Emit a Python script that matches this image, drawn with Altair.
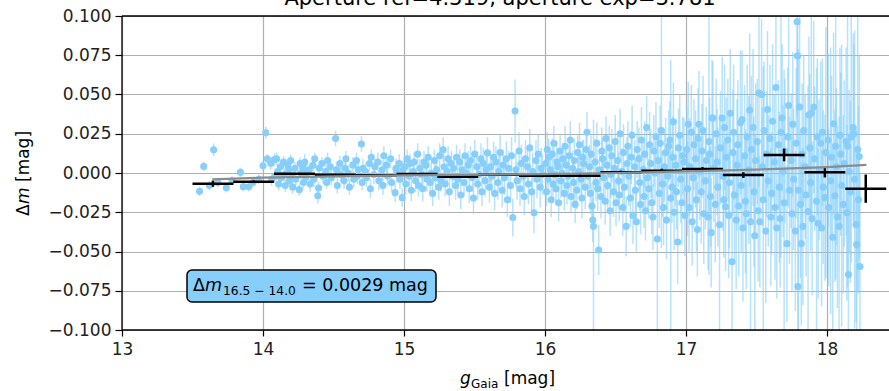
import altair as alt
import pandas as pd

# ---------------- data ----------------
# individual stars: (g_Gaia, delta_m, delta_m_err)
stars_135 = [
    (13.55, -0.0117, 0.003), (13.58, 0.0042, 0.003), (13.62, -0.0080, 0.003), (13.65, 0.0148, 0.004),
    (13.68, -0.0060, 0.003), (13.74, -0.0094, 0.003), (13.78, -0.0050, 0.003), (13.84, 0.0004, 0.003),
    (13.86, -0.0087, 0.003), (13.90, -0.0088, 0.003), (13.93, -0.0060, 0.003), (13.97, -0.0040, 0.003),
    (14.00, 0.0046, 0.003), (14.02, 0.0256, 0.004), (14.03, 0.0090, 0.003),
]
stars_140 = [
    (14.055, 0.006, 0.004), (14.062, -0.004, 0.004), (14.081, 0.0085, 0.004), (14.088, -0.002, 0.003),
    (14.097, 0.009, 0.004), (14.104, 0.001, 0.003), (14.111, -0.007, 0.004), (14.123, 0.004, 0.004),
    (14.129, -0.003, 0.003), (14.146, 0.007, 0.004), (14.152, -0.001, 0.004), (14.158, -0.008, 0.004),
    (14.175, 0.005, 0.004), (14.182, 0.002, 0.003), (14.188, -0.005, 0.004), (14.197, 0.008, 0.004),
    (14.204, -0.002, 0.004), (14.211, -0.009, 0.004), (14.226, 0.003, 0.004), (14.233, -0.004, 0.004),
    (14.258, -0.0106, 0.004), (14.263, 0.006, 0.004), (14.269, 0.000, 0.004), (14.281, 0.004, 0.004),
    (14.287, -0.006, 0.004), (14.296, 0.007, 0.005), (14.303, -0.003, 0.004), (14.309, 0.001, 0.004),
    (14.327, 0.002, 0.004), (14.334, -0.007, 0.005), (14.355, 0.005, 0.004), (14.361, -0.004, 0.005),
    (14.367, 0.009, 0.004), (14.389, -0.0145, 0.005), (14.394, -0.0095, 0.004), (14.399, 0.003, 0.005),
    (14.418, 0.006, 0.004), (14.425, -0.002, 0.005), (14.446, 0.001, 0.005), (14.452, -0.006, 0.004),
    (14.458, 0.008, 0.005), (14.478, 0.004, 0.005), (14.485, -0.003, 0.005), (14.515, 0.022, 0.005),
    (14.521, 0.002, 0.005), (14.527, -0.008, 0.005), (14.546, 0.006, 0.005), (14.553, -0.001, 0.005),
    (14.575, -0.005, 0.005), (14.582, 0.003, 0.005), (14.588, 0.009, 0.005), (14.606, 0.000, 0.005),
    (14.613, -0.009, 0.005), (14.637, 0.005, 0.005), (14.644, -0.004, 0.005), (14.663, 0.008, 0.005),
    (14.669, -0.002, 0.005), (14.676, 0.002, 0.006), (14.698, 0.0185, 0.005), (14.703, -0.006, 0.005),
    (14.709, 0.003, 0.006), (14.727, 0.001, 0.005), (14.734, -0.003, 0.006), (14.755, 0.006, 0.005),
    (14.762, -0.010, 0.006), (14.768, 0.010, 0.005), (14.786, -0.001, 0.006), (14.793, 0.004, 0.005),
    (14.815, 0.007, 0.006), (14.822, -0.005, 0.006), (14.845, 0.002, 0.006), (14.851, -0.008, 0.006),
    (14.857, 0.011, 0.006), (14.876, 0.005, 0.006), (14.883, -0.002, 0.006), (14.905, 0.009, 0.006),
    (14.912, -0.006, 0.006), (14.937, -0.0125, 0.006), (14.943, 0.003, 0.006), (14.949, 0.000, 0.006),
    (14.966, 0.006, 0.006), (14.972, -0.004, 0.006), (14.987, -0.0157, 0.006), (14.994, 0.002, 0.006),
]
stars_150 = [
    (15.008, 0.004, 0.006), (15.013, -0.007, 0.007), (15.022, 0.009, 0.006), (15.037, -0.002, 0.007),
    (15.043, 0.006, 0.006), (15.052, -0.011, 0.007), (15.066, 0.001, 0.007), (15.072, 0.007, 0.006),
    (15.083, -0.005, 0.007), (15.097, 0.012, 0.007), (15.103, -0.008, 0.007), (15.112, 0.003, 0.006),
    (15.127, -0.001, 0.007), (15.133, -0.010, 0.008), (15.142, 0.007, 0.007), (15.157, 0.005, 0.007),
    (15.163, -0.004, 0.008), (15.172, 0.010, 0.007), (15.186, -0.006, 0.008), (15.193, 0.000, 0.007),
    (15.203, -0.013, 0.008), (15.216, 0.008, 0.007), (15.223, -0.003, 0.008), (15.232, 0.002, 0.007),
    (15.246, -0.009, 0.008), (15.253, 0.011, 0.008), (15.262, -0.005, 0.007), (15.278, 0.0148, 0.008),
    (15.284, 0.004, 0.008), (15.292, -0.007, 0.008), (15.306, 0.001, 0.008), (15.313, 0.009, 0.008),
    (15.322, -0.012, 0.009), (15.336, 0.006, 0.008), (15.343, -0.002, 0.008), (15.352, 0.003, 0.008),
    (15.366, -0.008, 0.009), (15.373, 0.010, 0.008), (15.382, -0.004, 0.009), (15.396, 0.007, 0.008),
    (15.403, -0.014, 0.009), (15.412, 0.002, 0.009), (15.426, -0.006, 0.009), (15.433, 0.011, 0.008),
    (15.442, 0.000, 0.009), (15.456, 0.005, 0.009), (15.463, -0.010, 0.009), (15.472, 0.008, 0.009),
    (15.486, -0.003, 0.009), (15.493, -0.016, 0.010), (15.502, 0.012, 0.009), (15.516, 0.004, 0.009),
    (15.523, -0.007, 0.010), (15.532, -0.001, 0.009), (15.546, 0.009, 0.010), (15.553, -0.012, 0.009),
    (15.562, 0.006, 0.010), (15.576, -0.005, 0.010), (15.583, 0.002, 0.009), (15.592, 0.0128, 0.010),
    (15.606, -0.009, 0.010), (15.613, 0.004, 0.010), (15.622, -0.002, 0.010), (15.636, 0.010, 0.010),
    (15.643, -0.013, 0.011), (15.652, 0.007, 0.010), (15.666, -0.006, 0.011), (15.673, 0.001, 0.010),
    (15.682, 0.013, 0.011), (15.696, -0.011, 0.011), (15.703, 0.005, 0.010), (15.712, -0.003, 0.011),
    (15.726, 0.009, 0.011), (15.733, -0.017, 0.011), (15.742, 0.003, 0.011), (15.756, -0.008, 0.011),
    (15.763, 0.011, 0.012), (15.772, -0.0284, 0.012), (15.788, 0.0395, 0.020), (15.794, 0.002, 0.011),
    (15.802, -0.005, 0.012), (15.816, 0.014, 0.012), (15.823, -0.010, 0.011), (15.832, 0.006, 0.012),
    (15.846, -0.002, 0.012), (15.853, -0.015, 0.012), (15.862, 0.009, 0.012), (15.876, 0.004, 0.012),
    (15.883, -0.007, 0.013), (15.892, 0.016, 0.012), (15.906, -0.012, 0.013), (15.913, 0.001, 0.012),
    (15.922, -0.0253, 0.013), (15.936, 0.008, 0.013), (15.943, -0.004, 0.012), (15.952, 0.012, 0.013),
    (15.966, -0.009, 0.013), (15.973, 0.003, 0.013), (15.982, -0.001, 0.013),
]
stars_160 = [
    (16.006, 0.006, 0.010), (16.011, -0.012, 0.009), (16.016, 0.015, 0.011), (16.022, -0.004, 0.010),
    (16.027, 0.010, 0.012), (16.038, 0.002, 0.009), (16.044, -0.017, 0.011), (16.052, 0.012, 0.010),
    (16.057, -0.007, 0.012), (16.063, 0.019, 0.011), (16.068, -0.001, 0.009), (16.078, -0.010, 0.010),
    (16.084, 0.007, 0.013), (16.092, 0.004, 0.011), (16.097, -0.019, 0.012), (16.107, 0.014, 0.010),
    (16.113, -0.005, 0.011), (16.121, 0.000, 0.012), (16.126, 0.009, 0.010), (16.137, -0.013, 0.011),
    (16.143, 0.017, 0.013), (16.151, 0.005, 0.010), (16.156, -0.008, 0.012), (16.166, -0.002, 0.013),
    (16.172, 0.011, 0.011), (16.179, 0.021, 0.012), (16.185, -0.015, 0.010), (16.196, 0.003, 0.011),
    (16.202, -0.006, 0.013), (16.208, 0.008, 0.014), (16.214, -0.020, 0.012), (16.226, -0.011, 0.012),
    (16.232, 0.013, 0.011), (16.239, 0.001, 0.013), (16.245, 0.018, 0.014), (16.256, -0.004, 0.012),
    (16.262, -0.016, 0.013), (16.268, 0.010, 0.011), (16.274, 0.006, 0.015), (16.286, -0.009, 0.014),
    (16.292, 0.015, 0.012), (16.298, 0.026, 0.013), (16.304, -0.002, 0.012), (16.316, 0.004, 0.014),
    (16.322, -0.013, 0.013), (16.327, 0.012, 0.012), (16.333, -0.021, 0.015), (16.339, -0.030, 0.014),
    (16.344, -0.034, 0.068), (16.356, 0.007, 0.015), (16.362, -0.006, 0.012), (16.368, 0.019, 0.013),
    (16.374, -0.010, 0.014), (16.381, -0.049, 0.016), (16.386, 0.002, 0.013), (16.397, -0.015, 0.014),
    (16.403, 0.014, 0.015), (16.409, 0.009, 0.013), (16.415, -0.003, 0.016), (16.427, -0.018, 0.015),
    (16.433, 0.022, 0.014), (16.439, 0.005, 0.016), (16.445, -0.008, 0.014), (16.456, 0.016, 0.014),
    (16.462, -0.024, 0.016), (16.468, -0.001, 0.015), (16.474, 0.011, 0.017), (16.486, -0.012, 0.016),
    (16.492, 0.003, 0.015), (16.498, 0.020, 0.017), (16.504, -0.019, 0.015), (16.516, 0.008, 0.016),
    (16.522, -0.005, 0.018), (16.527, -0.014, 0.017), (16.533, 0.025, 0.016), (16.546, 0.001, 0.015),
    (16.552, -0.022, 0.018), (16.557, 0.013, 0.018), (16.563, -0.009, 0.016), (16.576, -0.034, 0.019),
    (16.582, 0.006, 0.017), (16.588, 0.017, 0.016), (16.594, -0.002, 0.019), (16.606, -0.016, 0.018),
    (16.612, 0.010, 0.017), (16.618, 0.024, 0.019), (16.624, -0.027, 0.018), (16.636, 0.004, 0.017),
    (16.642, -0.011, 0.020), (16.648, -0.031, 0.019), (16.654, 0.015, 0.018), (16.666, 0.009, 0.020),
    (16.672, -0.006, 0.018), (16.678, -0.020, 0.019), (16.684, 0.021, 0.021), (16.696, 0.002, 0.018),
    (16.702, -0.015, 0.020), (16.707, 0.012, 0.021), (16.713, -0.024, 0.019), (16.721, 0.029, 0.020),
    (16.727, -0.003, 0.022), (16.736, -0.010, 0.019), (16.742, 0.018, 0.021), (16.751, 0.006, 0.022),
    (16.757, -0.019, 0.020), (16.766, -0.028, 0.021), (16.772, 0.014, 0.023), (16.781, 0.000, 0.020),
    (16.787, 0.023, 0.022), (16.797, -0.042, 0.065), (16.803, 0.008, 0.021), (16.811, -0.013, 0.022),
    (16.817, 0.019, 0.024), (16.826, 0.027, 0.075), (16.832, -0.007, 0.021), (16.841, -0.022, 0.024),
    (16.847, 0.004, 0.022), (16.856, 0.013, 0.022), (16.862, -0.030, 0.025), (16.871, -0.002, 0.024),
    (16.877, 0.017, 0.023), (16.886, 0.021, 0.025), (16.892, -0.016, 0.088), (16.901, -0.009, 0.023),
    (16.906, 0.010, 0.026), (16.911, 0.0326, 0.025), (16.916, -0.025, 0.024), (16.927, 0.005, 0.026),
    (16.933, -0.012, 0.024), (16.941, -0.044, 0.027), (16.947, 0.016, 0.025), (16.956, 0.024, 0.026),
    (16.962, -0.004, 0.028), (16.971, -0.019, 0.027), (16.977, 0.011, 0.025), (16.986, 0.007, 0.028),
    (16.992, -0.027, 0.026),
]
stars_170 = [
    (17.006, 0.015, 0.028), (17.011, -0.010, 0.030), (17.016, 0.031, 0.027), (17.022, -0.022, 0.029),
    (17.027, 0.004, 0.031), (17.038, 0.026, 0.030), (17.044, -0.031, 0.028), (17.052, -0.003, 0.032),
    (17.057, 0.018, 0.029), (17.068, 0.009, 0.031), (17.074, -0.017, 0.033), (17.081, -0.036, 0.030),
    (17.086, 0.022, 0.032), (17.092, 0.031, 0.034), (17.097, 0.001, 0.031), (17.108, -0.012, 0.033),
    (17.114, 0.014, 0.030), (17.121, 0.027, 0.035), (17.126, -0.026, 0.032), (17.138, -0.005, 0.031),
    (17.144, 0.008, 0.034), (17.157, -0.028, 0.034), (17.163, 0.020, 0.085), (17.168, 0.012, 0.036),
    (17.174, -0.015, 0.032), (17.179, -0.038, 0.035), (17.185, 0.035, 0.037), (17.191, 0.035, 0.036),
    (17.196, 0.003, 0.034), (17.208, -0.020, 0.037), (17.214, 0.025, 0.035), (17.221, 0.007, 0.034),
    (17.226, -0.009, 0.038), (17.238, -0.033, 0.070), (17.244, 0.016, 0.036), (17.257, 0.035, 0.039),
    (17.263, -0.002, 0.035), (17.268, -0.017, 0.037), (17.274, 0.029, 0.040), (17.281, -0.0215, 0.041),
    (17.286, 0.010, 0.038), (17.297, 0.021, 0.039), (17.303, -0.027, 0.040), (17.308, -0.006, 0.042),
    (17.314, 0.038, 0.041), (17.327, -0.0565, 0.045), (17.333, 0.013, 0.040), (17.338, 0.026, 0.043),
    (17.344, -0.014, 0.041), (17.356, -0.030, 0.044), (17.362, 0.005, 0.042), (17.368, 0.018, 0.041),
    (17.374, -0.021, 0.045), (17.386, 0.032, 0.046), (17.392, -0.008, 0.043), (17.398, 0.034, 0.044),
    (17.404, -0.035, 0.047), (17.416, 0.011, 0.045), (17.422, -0.018, 0.046), (17.428, -0.026, 0.048),
    (17.434, 0.023, 0.046), (17.446, 0.002, 0.047), (17.452, 0.040, 0.049), (17.458, -0.031, 0.075),
    (17.464, 0.015, 0.047), (17.476, 0.029, 0.050), (17.482, -0.012, 0.048), (17.488, -0.040, 0.065),
    (17.494, 0.008, 0.049), (17.506, 0.020, 0.040), (17.512, -0.024, 0.045), (17.518, 0.051, 0.060),
    (17.524, -0.031, 0.042), (17.536, 0.050, 0.048), (17.542, 0.004, 0.038), (17.548, -0.017, 0.085),
    (17.554, 0.027, 0.044), (17.566, -0.037, 0.046), (17.572, 0.012, 0.040), (17.578, 0.0404, 0.050),
    (17.584, -0.005, 0.042), (17.596, 0.022, 0.047), (17.602, -0.028, 0.044), (17.608, -0.013, 0.039),
    (17.614, 0.033, 0.049), (17.626, 0.007, 0.043), (17.632, -0.022, 0.046), (17.638, 0.0545, 0.052),
    (17.644, -0.035, 0.045), (17.656, 0.018, 0.041), (17.662, -0.009, 0.048), (17.668, -0.029, 0.044),
    (17.674, 0.026, 0.080), (17.682, 0.035, 0.047), (17.688, 0.001, 0.042), (17.696, -0.019, 0.085),
    (17.702, 0.014, 0.046), (17.716, -0.045, 0.050), (17.722, 0.023, 0.044), (17.728, 0.043, 0.065),
    (17.734, -0.011, 0.047), (17.746, 0.008, 0.043), (17.752, -0.026, 0.049), (17.758, 0.031, 0.046),
    (17.764, -0.004, 0.045), (17.776, -0.037, 0.051), (17.782, 0.019, 0.048), (17.788, 0.0963, 0.060),
    (17.791, 0.0746, 0.055), (17.794, -0.0723, 0.050), (17.797, -0.011, 0.090), (17.806, 0.042, 0.062),
    (17.812, -0.020, 0.047), (17.818, -0.045, 0.052), (17.824, 0.012, 0.045), (17.829, -0.034, 0.050),
    (17.835, 0.027, 0.048), (17.846, 0.004, 0.046), (17.852, -0.014, 0.052), (17.866, -0.0245, 0.080),
    (17.872, 0.037, 0.050), (17.878, 0.016, 0.047), (17.884, -0.006, 0.044), (17.889, 0.038, 0.070),
    (17.895, -0.029, 0.049), (17.906, 0.042, 0.055), (17.912, 0.009, 0.046), (17.926, -0.018, 0.085),
    (17.932, 0.023, 0.050), (17.938, -0.032, 0.048), (17.944, 0.002, 0.045), (17.956, 0.019, 0.052),
    (17.962, -0.035, 0.050), (17.968, 0.026, 0.047), (17.974, -0.009, 0.049), (17.986, -0.0157, 0.053),
    (17.992, 0.013, 0.080),
]
stars_180 = [
    (18.008, 0.021, 0.055), (18.013, -0.022, 0.050), (18.026, -0.005, 0.085), (18.032, 0.010, 0.052),
    (18.041, -0.041, 0.060), (18.047, 0.0314, 0.058), (18.056, -0.0145, 0.055), (18.062, 0.017, 0.085),
    (18.068, 0.004, 0.050), (18.074, -0.028, 0.058), (18.086, -0.034, 0.070), (18.092, 0.024, 0.056),
    (18.098, 0.012, 0.052), (18.104, -0.008, 0.090), (18.116, -0.020, 0.057), (18.122, 0.006, 0.053),
    (18.136, 0.020, 0.060), (18.141, -0.0253, 0.056), (18.146, 0.017, 0.090), (18.152, -0.0647, 0.055),
    (18.158, 0.001, 0.052), (18.166, -0.012, 0.058), (18.172, 0.023, 0.080), (18.186, 0.029, 0.060),
    (18.191, 0.025, 0.057), (18.196, -0.004, 0.095), (18.206, -0.0328, 0.062), (18.211, -0.0456, 0.058),
    (18.218, 0.015, 0.090), (18.224, -0.017, 0.060), (18.229, 0.0105, 0.065), (18.234, -0.0595, 0.060),
]

# binned medians (black crosses)
bin_g = [13.645, 13.934, 14.223, 14.513, 14.802, 15.092, 15.381, 15.670, 15.960,
         16.249, 16.538, 16.828, 17.117, 17.407, 17.696, 17.985, 18.275]
bin_dm = [-0.0068, -0.0055, -0.0005, -0.0011, -0.0014, -0.0006, -0.0024, -0.0011, -0.0017,
          -0.0017, 0.0005, 0.0015, 0.0025, -0.0013, 0.0115, 0.0004, -0.0100]
bin_gerr = [0.145] * 17
bin_dmerr = [0.0020, 0.0008, 0.0006, 0.0005, 0.0005, 0.0006, 0.0006, 0.0007, 0.0008,
             0.0009, 0.0010, 0.0012, 0.0012, 0.0018, 0.0040, 0.0032, 0.0090]

# grey trend curve
trend_g = [13.64, 14.0, 14.5, 15.0, 15.5, 16.0, 16.5, 17.0, 17.5, 18.0, 18.28]
trend_dm = [-0.0040, -0.0030, -0.0021, -0.0015, -0.0011, -0.0007, 0.0000, 0.0010, 0.0022, 0.0038, 0.0052]

x_ticks = [13, 14, 15, 16, 17, 18]
y_ticks = [-0.100, -0.075, -0.050, -0.025, 0.000, 0.025, 0.050, 0.075, 0.100]

title_text = "Aperture ref=4.319, aperture exp=3.781"
box_value = "= 0.0029 mag"
box_sub = "16.5 \u2212 14.0"

# ---------------- build ----------------
FONT = "DejaVu Sans"
W, H = 767, 314
BLUE = "#87cefa"

stars = pd.DataFrame(stars_135 + stars_140 + stars_150 + stars_160 + stars_170 + stars_180,
                     columns=["g", "dm", "err"])
stars["lo"] = stars["dm"] - stars["err"]
stars["hi"] = stars["dm"] + stars["err"]

bins = pd.DataFrame({"g": bin_g, "dm": bin_dm, "ge": bin_gerr, "de": bin_dmerr})
bins["glo"] = bins["g"] - bins["ge"]
bins["ghi"] = bins["g"] + bins["ge"]
bins["dlo"] = bins["dm"] - bins["de"]
bins["dhi"] = bins["dm"] + bins["de"]

trend = pd.DataFrame({"g": trend_g, "dm": trend_dm})

xs = alt.Scale(domain=[13, 18.44], nice=False, zero=False)
ys = alt.Scale(domain=[-0.1, 0.1], nice=False, zero=False)

x_axis = alt.Axis(values=x_ticks, format="d", title=None, grid=True, domain=False,
                  labelOverlap=False, labelFlush=False,
                  tickSize=6, tickColor="black", tickWidth=1.2,
                  labelFont=FONT, labelFontSize=17, labelColor="#222", labelPadding=5)
y_axis = alt.Axis(values=y_ticks, format=".3f", title=None, grid=True, domain=False,
                  labelOverlap=False, labelFlush=False,
                  tickSize=7, tickColor="black", tickWidth=1.2,
                  labelFont=FONT, labelFontSize=17, labelColor="#222", labelPadding=4)


def X(field):
    return alt.X(field, scale=xs, axis=x_axis)


def Y(field):
    return alt.Y(field, scale=ys, axis=y_axis)


errbars = alt.Chart(stars).mark_rule(color=BLUE, opacity=0.6, strokeWidth=1.5, clip=True).encode(
    x=X("g:Q"), y=Y("lo:Q"), y2="hi:Q",
)
dots = alt.Chart(stars).mark_circle(color=BLUE, opacity=1, size=50, clip=True).encode(
    x=X("g:Q"), y=Y("dm:Q")
)
trend_line = alt.Chart(trend).mark_line(color="#8c8c8c", strokeWidth=2.2).encode(
    x=X("g:Q"), y=Y("dm:Q")
)
bin_h = alt.Chart(bins).mark_rule(color="black", strokeWidth=2.5).encode(
    x=X("glo:Q"), x2="ghi:Q", y=Y("dm:Q")
)
bin_v = alt.Chart(bins).mark_rule(color="black", strokeWidth=2.5).encode(
    x=X("g:Q"), y=Y("dlo:Q"), y2="dhi:Q"
)


def label(text, x, y, size=17, style="normal", align="left", angle=0, baseline="alphabetic"):
    opts = dict(font=FONT, fontSize=size, fontStyle=style, align=align,
                baseline=baseline, color="black")
    if angle:
        opts["angle"] = angle
    return alt.Chart(pd.DataFrame({"t": [text]})).mark_text(**opts).encode(
        text="t:N", x=alt.value(x), y=alt.value(y)
    )


one = pd.DataFrame({"a": [0]})
spines = [
    alt.Chart(one).mark_rule(color="black", strokeWidth=1.3).encode(x=alt.value(0), x2=alt.value(W), y=alt.value(0)),
    alt.Chart(one).mark_rule(color="black", strokeWidth=1.3).encode(x=alt.value(0), x2=alt.value(W), y=alt.value(H)),
    alt.Chart(one).mark_rule(color="black", strokeWidth=1.3).encode(x=alt.value(0), y=alt.value(0), y2=alt.value(H)),
]

box = alt.Chart(one).mark_rect(fill=BLUE, stroke="black", strokeWidth=1.5, cornerRadius=5).encode(
    x=alt.value(65), x2=alt.value(314), y=alt.value(254), y2=alt.value(286)
)

texts = [
    label(title_text, 378, -11, size=21, align="center"),
    # x-axis title: g_Gaia [mag]
    label("g", 338, 368, style="italic"),
    label("Gaia", 349, 372, size=12),
    label("[mag]", 382, 368),
    # y-axis title: Δm [mag]
    label("\u0394", -93, 200, angle=270),
    label("m", -93, 188, style="italic", angle=270),
    label("[mag]", -93, 166, angle=270),
    # annotation box
    label("\u0394", 71, 275, size=17.5),
    label("m", 83, 275, size=17.5, style="italic"),
    label(box_sub, 101, 279, size=12.3),
    label(box_value, 180, 275, size=17.5),
]

chart = alt.layer(
    errbars, dots, bin_h, bin_v, trend_line, *spines, box, *texts
).properties(
    width=W, height=H,
    padding={"left": 122, "top": 16, "right": 0, "bottom": 61},
    autosize=alt.AutoSizeParams(type="none"),
).configure_view(
    stroke="transparent"
).configure_axis(
    gridColor="#b0b0b0", gridWidth=1.2, gridOpacity=1
)

chart.save("out.html", embed_options={"renderer": "svg", "actions": False})
